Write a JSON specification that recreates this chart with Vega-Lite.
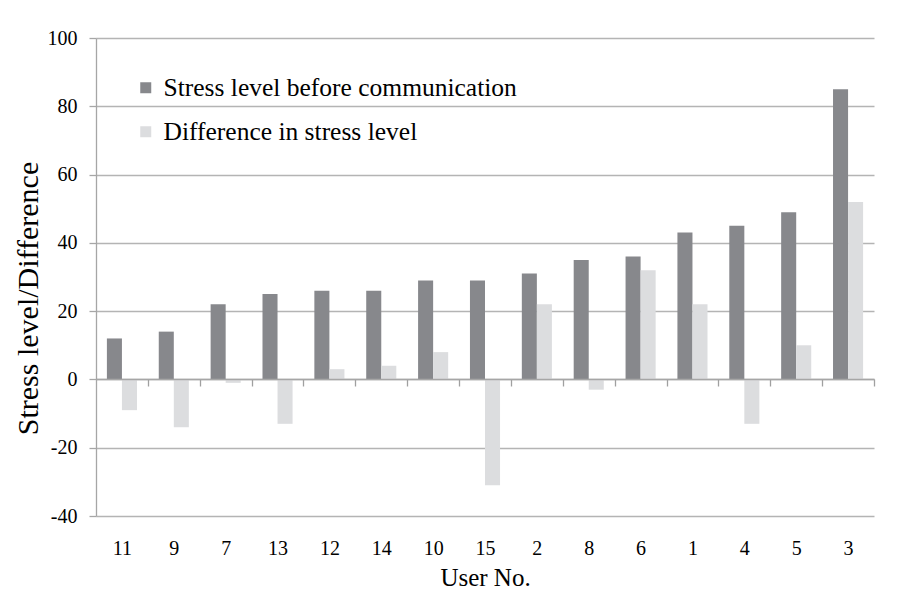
{
  "$schema": "https://vega.github.io/schema/vega-lite/v6.json",
  "width": 778,
  "height": 478,
  "autosize": {"type": "none"},
  "padding": {"left": 96, "top": 38, "right": 25, "bottom": 83},
  "config": {
    "font": "Liberation Serif",
    "view": {"stroke": null},
    "axis": {
      "labelFont": "Liberation Serif",
      "titleFont": "Liberation Serif",
      "labelColor": "#000000",
      "titleColor": "#000000",
      "titleFontWeight": "normal",
      "domainColor": "#a6a6a6",
      "tickColor": "#a6a6a6",
      "gridColor": "#b4b4b4",
      "domainWidth": 1.3,
      "tickWidth": 1.3,
      "gridWidth": 1.3
    }
  },
  "data": {
    "values": [
      {"user": "11", "series": "Stress level before communication", "value": 12},
      {"user": "11", "series": "Difference in stress level", "value": -9},
      {"user": "9", "series": "Stress level before communication", "value": 14},
      {"user": "9", "series": "Difference in stress level", "value": -14},
      {"user": "7", "series": "Stress level before communication", "value": 22},
      {"user": "7", "series": "Difference in stress level", "value": -1},
      {"user": "13", "series": "Stress level before communication", "value": 25},
      {"user": "13", "series": "Difference in stress level", "value": -13},
      {"user": "12", "series": "Stress level before communication", "value": 26},
      {"user": "12", "series": "Difference in stress level", "value": 3},
      {"user": "14", "series": "Stress level before communication", "value": 26},
      {"user": "14", "series": "Difference in stress level", "value": 4},
      {"user": "10", "series": "Stress level before communication", "value": 29},
      {"user": "10", "series": "Difference in stress level", "value": 8},
      {"user": "15", "series": "Stress level before communication", "value": 29},
      {"user": "15", "series": "Difference in stress level", "value": -31},
      {"user": "2", "series": "Stress level before communication", "value": 31},
      {"user": "2", "series": "Difference in stress level", "value": 22},
      {"user": "8", "series": "Stress level before communication", "value": 35},
      {"user": "8", "series": "Difference in stress level", "value": -3},
      {"user": "6", "series": "Stress level before communication", "value": 36},
      {"user": "6", "series": "Difference in stress level", "value": 32},
      {"user": "1", "series": "Stress level before communication", "value": 43},
      {"user": "1", "series": "Difference in stress level", "value": 22},
      {"user": "4", "series": "Stress level before communication", "value": 45},
      {"user": "4", "series": "Difference in stress level", "value": -13},
      {"user": "5", "series": "Stress level before communication", "value": 49},
      {"user": "5", "series": "Difference in stress level", "value": 10},
      {"user": "3", "series": "Stress level before communication", "value": 85},
      {"user": "3", "series": "Difference in stress level", "value": 52}
    ]
  },
  "mark": {"type": "bar"},
  "encoding": {
    "x": {
      "field": "user",
      "type": "nominal",
      "sort": ["11", "9", "7", "13", "12", "14", "10", "15", "2", "8", "6", "1", "4", "5", "3"],
      "scale": {"paddingInner": 0.42, "paddingOuter": 0.21},
      "axis": {
        "orient": "bottom",
        "offset": -137,
        "ticks": true,
        "tickSize": 7,
        "tickOffset": 25.93,
        "labelOffset": -25.93,
        "tickColor": "#a0a0a0",
        "tickWidth": 1.3,
        "zindex": 1,
        "domain": true,
        "domainColor": "#a6a6a6",
        "grid": false,
        "labelAngle": 0,
        "labelFontSize": 20,
        "labelPadding": 152,
        "title": "User No.",
        "titleFontSize": 25,
        "titlePadding": 7
      }
    },
    "xOffset": {
      "field": "series",
      "type": "nominal",
      "sort": ["Stress level before communication", "Difference in stress level"],
      "scale": {"paddingInner": 0, "paddingOuter": 0}
    },
    "y": {
      "field": "value",
      "type": "quantitative",
      "scale": {"domain": [-40, 100], "nice": false, "zero": false},
      "axis": {
        "values": [-40, -20, 0, 20, 40, 60, 80, 100],
        "labelExpr": "'' + datum.value",
        "grid": true,
        "domain": true,
        "tickSize": 7,
        "labelPadding": 12,
        "labelFontSize": 20,
        "title": "Stress level/Difference",
        "titleFontSize": 30,
        "titlePadding": 4,
        "titleY": 260
      }
    },
    "color": {
      "field": "series",
      "type": "nominal",
      "scale": {
        "domain": ["Stress level before communication", "Difference in stress level"],
        "range": ["#87888c", "#dcdddf"]
      },
      "legend": {
        "title": null,
        "orient": "none",
        "legendX": 37,
        "legendY": 37,
        "symbolType": "square",
        "symbolSize": 121,
        "symbolStrokeWidth": 0,
        "symbolOpacity": 1,
        "labelFont": "Liberation Serif",
        "labelFontSize": 25.5,
        "labelColor": "#000000",
        "labelLimit": 600,
        "rowPadding": 17,
        "labelOffset": 5
      }
    }
  }
}
